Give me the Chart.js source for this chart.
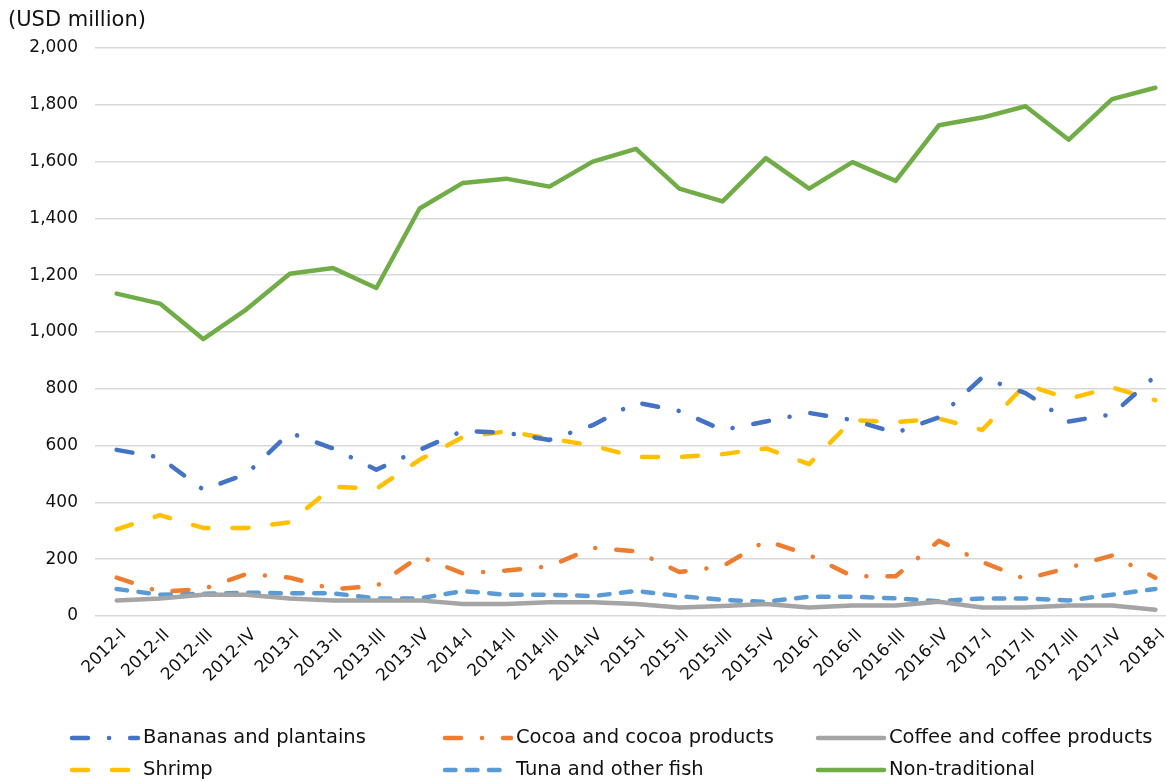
<!DOCTYPE html>
<html lang="en">
<head>
  <meta charset="UTF-8">
  <title>Exports by product</title>
  <script src="https://cdn.jsdelivr.net/npm/chart.js@4.4.0/dist/chart.umd.min.js"></script>
  <style>
    body { margin: 0; background: #fff; overflow: hidden; }
    .chart-container { position: relative; width: 1180px; height: 781px; }
  </style>
</head>
<body>
  <div class="chart-container">
    <canvas id="exportsChart"></canvas>
  </div>

  <script>
    const quarters = ['2012-I', '2012-II', '2012-III', '2012-IV', '2013-I', '2013-II', '2013-III', '2013-IV',
      '2014-I', '2014-II', '2014-III', '2014-IV', '2015-I', '2015-II', '2015-III', '2015-IV',
      '2016-I', '2016-II', '2016-III', '2016-IV', '2017-I', '2017-II', '2017-III', '2017-IV', '2018-I'];

    const bananas = [585, 558, 445, 500, 645, 590, 515, 585, 652, 645, 620, 672, 752, 722, 655, 685,
      715, 690, 645, 700, 840, 785, 685, 710, 845];
    const cocoa = [135, 85, 95, 148, 135, 95, 105, 210, 150, 160, 175, 240, 228, 155, 175, 265,
      215, 140, 140, 265, 190, 130, 170, 213, 135];
    const coffee = [55, 62, 75, 75, 62, 55, 55, 55, 42, 42, 48, 48, 42, 30, 35, 42,
      30, 37, 37, 50, 30, 30, 37, 37, 22];
    const shrimp = [305, 355, 310, 310, 330, 455, 448, 550, 630, 650, 625, 600, 560, 560, 570, 590,
      535, 690, 683, 695, 655, 815, 765, 805, 760];
    const tuna = [95, 75, 78, 82, 80, 80, 62, 62, 88, 75, 75, 70, 88, 70, 57, 50,
      68, 68, 62, 52, 62, 62, 55, 75, 95];
    const nonTraditional = [1135, 1100, 975, 1080, 1205, 1225, 1155, 1435, 1525, 1540, 1512, 1600, 1645, 1505, 1460, 1612,
      1505, 1598, 1532, 1728, 1755, 1795, 1677, 1820, 1860];

    const FONT = 'DejaVu Sans';

    function series(label, data, color, dash) {
      return {
        label: label,
        data: data,
        borderColor: color,
        backgroundColor: color,
        borderWidth: 4.5,
        borderDash: dash,
        borderCapStyle: 'round',
        borderJoinStyle: 'round',
        pointRadius: 0,
        tension: 0,
        fill: false
      };
    }

    const dashDot = [16, 21, 0.1, 21];

    // legend grid: 3 columns, 2 rows
    const legendCols = [70, 443, 816];
    const legendRows = [738, 770];

    const extras = {
      id: 'extras',
      afterDraw(chart) {
        const ctx = chart.ctx;
        ctx.save();
        ctx.fillStyle = '#111';
        ctx.textBaseline = 'middle';
        ctx.textAlign = 'left';
        ctx.font = '21px ' + FONT;
        ctx.fillText('(USD million)', 8, 21);

        ctx.font = '19.5px ' + FONT;
        chart.data.datasets.forEach((ds, i) => {
          const x = legendCols[i % 3];
          const y = legendRows[Math.floor(i / 3)];
          ctx.save();
          ctx.strokeStyle = ds.borderColor;
          ctx.lineWidth = ds.borderWidth;
          ctx.lineCap = 'round';
          ctx.setLineDash(ds.borderDash || []);
          ctx.beginPath();
          ctx.moveTo(x + 2, y);
          ctx.lineTo(x + 68, y);
          ctx.stroke();
          ctx.restore();
          ctx.fillText(ds.label, x + 73, y);
        });
        ctx.restore();
      }
    };

    new Chart(document.getElementById('exportsChart'), {
      type: 'line',
      data: {
        labels: quarters,
        datasets: [
          series('Bananas and plantains', bananas, '#4472C4', dashDot),
          series('Cocoa and cocoa products', cocoa, '#ED7D31', dashDot),
          series('Coffee and coffee products', coffee, '#A5A5A5', []),
          series('Shrimp', shrimp, '#FFC000', [16, 24]),
          series('Tuna and other fish', tuna, '#5B9BD5', [10.5, 11.5]),
          series('Non-traditional', nonTraditional, '#70AD47', [])
        ]
      },
      options: {
        responsive: true,
        maintainAspectRatio: false,
        animation: false,
        layout: { padding: { top: 48, left: 0, right: 3, bottom: 0 } },
        plugins: {
          legend: { display: false },
          title: { display: false },
          tooltip: { enabled: false }
        },
        scales: {
          x: {
            offset: true,
            grid: { display: false, drawTicks: false },
            border: { display: false },
            ticks: {
              color: '#111',
              font: { family: FONT, size: 17 },
              minRotation: 45,
              maxRotation: 45,
              autoSkip: false,
              padding: 9,
              labelOffset: 7
            },
            afterFit: scale => { scale.height = 165; }
          },
          y: {
            min: 0,
            max: 2000,
            grid: { color: '#d9d9d9', lineWidth: 1.5, drawTicks: false },
            border: { display: false },
            ticks: {
              stepSize: 200,
              color: '#111',
              font: { family: FONT, size: 17 },
              padding: 17,
              callback: v => v.toLocaleString('en-US')
            },
            afterFit: scale => { scale.width = 95; }
          }
        }
      },
      plugins: [extras]
    });
  </script>
</body>
</html>
